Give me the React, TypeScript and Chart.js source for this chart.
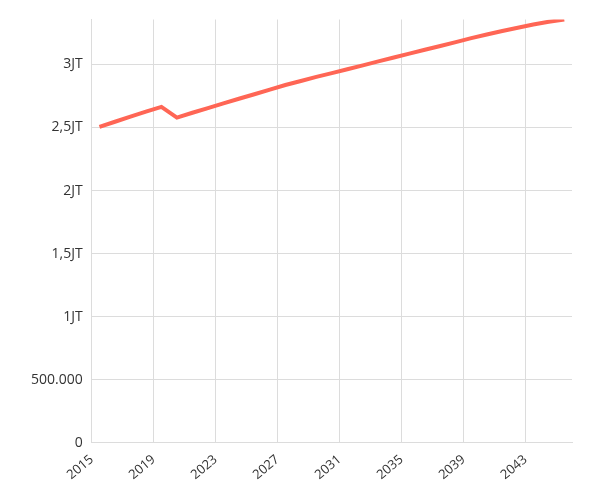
import React, { useEffect, useRef } from "react";
import { Chart, registerables } from "chart.js";

Chart.register(...registerables);

const years = [
  2015, 2016, 2017, 2018, 2019, 2020, 2021, 2022, 2023, 2024, 2025,
  2026, 2027, 2028, 2029, 2030, 2031, 2032, 2033, 2034, 2035, 2036,
  2037, 2038, 2039, 2040, 2041, 2042, 2043, 2044, 2045,
];

const values = [
  2505000, 2545000, 2585000, 2625000, 2663000, 2578000, 2616000, 2653000,
  2690000, 2727000, 2763000, 2800000, 2836000, 2868000, 2900000, 2930000,
  2961000, 2992000, 3023000, 3054000, 3085000, 3115000, 3145000, 3176000,
  3207000, 3236000, 3264000, 3290000, 3316000, 3337000, 3355000,
];

const xTickYears = [2015, 2019, 2023, 2027, 2031, 2035, 2039, 2043];
const yTickValues = [0, 500000, 1000000, 1500000, 2000000, 2500000, 3000000];

const formatY = (v: number) => {
  if (v === 0) return "0";
  if (v < 1000000) return v.toLocaleString("id-ID");
  return (v / 1000000).toLocaleString("id-ID") + "JT";
};

const App = () => {
  const canvasRef = useRef<HTMLCanvasElement>(null);

  useEffect(() => {
    if (!canvasRef.current) return;
    const ctx = canvasRef.current.getContext("2d");
    if (!ctx) return;

    // each year's value sits in the middle of its year
    const points = years.map((y, i) => ({ x: y + 0.5, y: values[i] }));

    const chart = new Chart(ctx, {
      type: "line",
      data: {
        datasets: [
          {
            data: points,
            borderColor: "#ff6655",
            borderWidth: 4,
            pointRadius: 0,
            tension: 0,
            fill: false,
          },
        ],
      },
      options: {
        animation: false,
        responsive: true,
        maintainAspectRatio: false,
        layout: { padding: { left: 14, right: 11, top: 1, bottom: 0 } },
        plugins: { legend: { display: false }, tooltip: { enabled: false } },
        scales: {
          x: {
            type: "linear",
            min: years[0],
            max: years[years.length - 1] + 1,
            afterBuildTicks: (axis: any) => {
              axis.ticks = xTickYears.map((v) => ({ value: v }));
            },
            grid: { color: "#dcdcdc", drawTicks: false },
            border: { color: "#dcdcdc" },
            ticks: {
              minRotation: 40,
              maxRotation: 40,
              padding: 9,
              color: "#333",
              font: { family: "Open Sans", size: 13 },
              callback: (v: any) => String(v),
            },
          },
          y: {
            min: 0,
            max: Math.max(...values),
            afterBuildTicks: (axis: any) => {
              axis.ticks = yTickValues.map((v) => ({ value: v }));
            },
            // top label is well below the top edge, so less room is needed up there
            afterFit: (axis: any) => {
              axis.paddingTop = 11.5;
            },
            grid: { color: "#dcdcdc", drawTicks: false },
            border: { color: "#dcdcdc" },
            ticks: {
              padding: 9,
              color: "#333",
              font: { family: "Open Sans", size: 14 },
              callback: (v: any) => formatY(Number(v)),
            },
          },
        },
      },
    });

    return () => chart.destroy();
  }, []);

  return (
    <div style={{ position: "relative", height: 484 }}>
      <canvas ref={canvasRef}></canvas>
    </div>
  );
};

export default App;
